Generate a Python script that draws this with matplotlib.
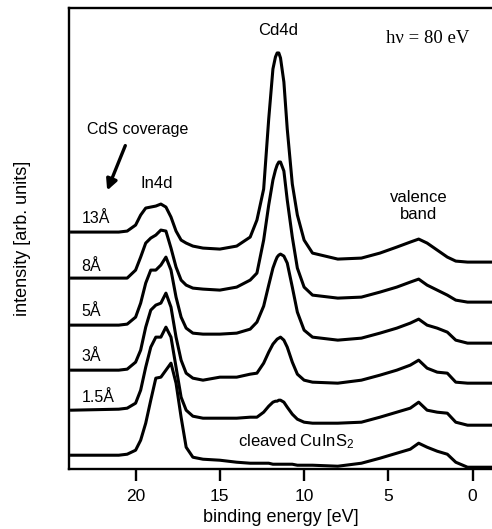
import matplotlib
matplotlib.use('Agg')
import matplotlib.pyplot as plt

plt.rcParams['font.family'] = ['Liberation Sans', 'DejaVu Sans']
plt.rcParams['mathtext.default'] = 'regular'

# binding energy grid [eV]
energy = [23.8, 21.0, 20.5, 20.0, 19.7, 19.4, 19.1, 18.8, 18.5, 18.2, 17.9, 17.6,
          17.3, 17.0, 16.6, 16.0, 15.0, 14.0, 13.2, 12.8, 12.4, 12.1, 11.85, 11.7,
          11.6, 11.5, 11.4, 11.2, 11.0, 10.7, 10.4, 10.0, 9.5, 8.0, 6.6, 5.5, 4.5,
          3.7, 3.2, 2.7, 2.1, 1.5, 1.0, 0.3, -1.2]

# spectra, already offset (arb. units)
cov_13 = [237, 237, 238, 244, 254, 261, 262, 263, 265, 262, 252, 238,
          229, 226, 223, 221, 220, 223, 232, 249, 280, 350, 400, 412,
          416, 416, 411, 387, 340, 285, 254, 229, 216, 210, 211, 216, 222,
          227, 230, 226, 219, 212, 208, 207, 207]
cov_8 = [191, 191, 191, 199, 212, 226, 231, 234, 239, 238, 221, 202,
         189, 184, 181, 180, 179, 182, 189, 196, 229, 264, 289, 299,
         304, 307, 307, 298, 269, 232, 201, 182, 174, 171, 172, 177, 182,
         187, 190, 184, 179, 174, 169, 167, 167]
cov_5 = [144, 144, 145, 152, 166, 186, 199, 199, 204, 212, 199, 172,
         152, 141, 136, 135, 135, 136, 140, 147, 163, 184, 201, 208,
         212, 214, 215, 213, 206, 182, 157, 139, 132, 129, 131, 136, 141,
         146, 150, 144, 141, 137, 129, 126, 126]
cov_3 = [99, 99, 100, 107, 119, 142, 159, 164, 166, 176, 162, 132,
         109, 96, 91, 89, 92, 92, 95, 96, 106, 117, 125, 128,
         130, 131, 132, 129, 122, 107, 95, 89, 87, 86, 89, 94, 99,
         104, 109, 101, 97, 96, 87, 86, 86]
cov_1p5 = [59, 60, 61, 66, 79, 102, 122, 132, 132, 142, 132, 102,
           72, 59, 53, 51, 51, 51, 52, 52, 57, 63, 67, 68,
           68, 69, 69, 67, 62, 55, 50, 47, 46, 46, 47, 52, 57,
           61, 67, 59, 57, 56, 47, 44, 44]
cleaved = [14, 14, 15, 19, 29, 46, 69, 91, 92, 99, 106, 86,
           52, 22, 12, 10, 9, 7, 6, 6, 6, 6, 5, 5,
           5, 5, 5, 5, 5, 5, 4, 4, 4, 3, 6, 11, 16,
           20, 26, 22, 18, 15, 7, 2, 2]

spectra = [cov_13, cov_8, cov_5, cov_3, cov_1p5, cleaved]
cov_labels = ['13Å', '8Å', '5Å', '3Å', '1.5Å']
cov_label_y = [251, 203, 158, 113, 72]

fig = plt.figure(figsize=(4.92, 5.29), dpi=100)
ax = fig.add_axes([0.140, 0.113, 0.862, 0.872])

for s in spectra:
    ax.plot(energy, s, color='black', lw=2.2, solid_joinstyle='round')

ax.set_xlim(23.96, -1.21)
ax.set_ylim(0, 461)
ax.set_xticks([20, 15, 10, 5, 0])
ax.set_yticks([])
ax.tick_params(axis='x', direction='out', length=8.5, width=1.7, pad=6, labelsize=12.5)
for side in ['left', 'bottom', 'top']:
    ax.spines[side].set_linewidth(1.7)
ax.spines['right'].set_visible(False)

ax.set_xlabel('binding energy [eV]', fontsize=13, labelpad=3)
ax.set_ylabel('intensity [arb. units]', fontsize=13, labelpad=27)

for lab, y in zip(cov_labels, cov_label_y):
    ax.text(23.2, y, lab, fontsize=11.5, ha='left', va='center')

ax.text(19.89, 340, 'CdS coverage', fontsize=11.5, ha='center', va='center')
ax.annotate('', xy=(21.75, 276), xytext=(20.55, 326),
            arrowprops=dict(arrowstyle='-|>', lw=2.4, color='black', mutation_scale=16))
ax.text(18.76, 286, 'In4d', fontsize=12, ha='center', va='center')
ax.text(11.55, 438, 'Cd4d', fontsize=12, ha='center', va='center')
ax.text(2.69, 430, 'hν = 80 eV', fontsize=13.5, ha='center', va='center',
        family=['Liberation Serif', 'DejaVu Serif'])
ax.text(3.18, 263, 'valence\nband', fontsize=12, ha='center', va='center', linespacing=1.1)
ax.text(13.9, 28, 'cleaved CuInS$_2$', fontsize=12, ha='left', va='center')

fig.savefig('out.png', dpi=100)
